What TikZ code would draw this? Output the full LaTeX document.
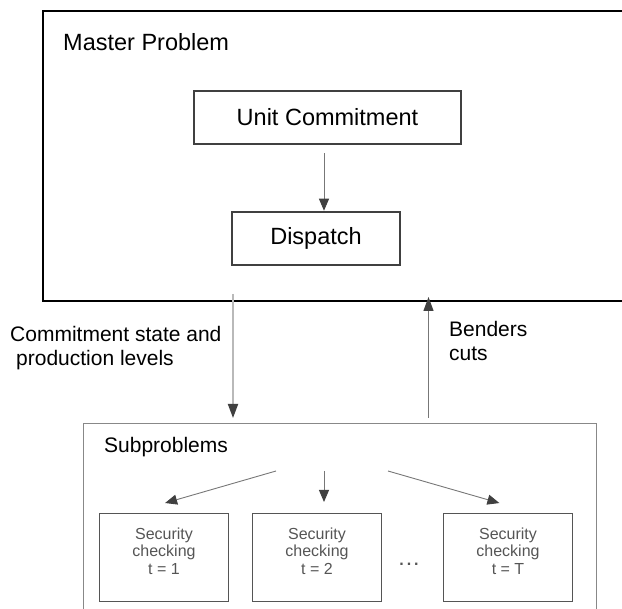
\documentclass[tikz,border=0pt]{standalone}
\usepackage{fontspec}
\setmainfont{Liberation Sans}
\usetikzlibrary{arrows.meta,calc}

\definecolor{boxgray}{HTML}{404040}
\definecolor{subgray}{HTML}{888888}
\definecolor{linegray}{HTML}{777777}
\definecolor{textgray}{HTML}{555555}

\tikzset{
  bigfont/.style={font=\fontsize{23.5}{26}\selectfont},
  midfont/.style={font=\fontsize{21}{24}\selectfont},
  smallfont/.style={font=\fontsize{16}{17.5}\selectfont},
  framebox/.style={draw=black, line width=2pt, anchor=north west, inner sep=0pt},
  stagebox/.style={draw=boxgray, line width=2.5pt, bigfont, inner sep=0pt},
  subframe/.style={draw=subgray, line width=1.3pt, anchor=north west, inner sep=0pt},
  checkbox/.style={draw=textgray, line width=1pt, anchor=north west, inner sep=0pt,
    minimum width=129pt, minimum height=88pt},
  checktext/.style={smallfont, text=textgray, align=center, inner sep=0pt},
  arr/.style={draw=linegray, line width=0.9pt,
    -{Triangle[length=12pt,width=10pt,fill=boxgray,color=boxgray]}},
  flow/.style={line width=1.8pt,
    -{Triangle[length=14pt,width=10pt,fill=boxgray,color=boxgray]}},
}

\begin{document}
\begin{tikzpicture}[x=1pt,y=-1pt]
\useasboundingbox (0,0) rectangle (622,609);
\clip (0,0) rectangle (622,609);

% master problem frame (runs off the right edge)
\node[framebox, minimum width=620pt, minimum height=290pt] (master) at (42,10) {};
\node[bigfont, anchor=base west, inner sep=0pt] (mastertitle) at (63,51) {Master Problem};

\node[stagebox, minimum width=267pt, minimum height=53pt] (uc) at (327.5,117.5) {Unit Commitment};
\node[stagebox, minimum width=168pt, minimum height=53pt] (disp) at (316,238.5) {Dispatch};
\draw[arr, shorten <=8pt] ([xshift=-3.5pt]uc.south) -- ([xshift=8pt]disp.north);

% subproblems frame (runs off the bottom edge)
\node[subframe, minimum width=513pt, minimum height=200pt] (sub) at (83,423) {};
\node[midfont, anchor=base west, inner sep=0pt] (subtitle) at (104,453) {Subproblems};

% links between master and subproblems
\coordinate (down) at (233,294);
\coordinate (up) at (428.5,418);
\draw[flow, draw=lightgray!90!gray, shorten >=5pt] (down) -- (down |- sub.north);
\draw[flow, draw=linegray, line width=1.2pt, shorten >=-5pt] (up) -- (up |- master.south);

\node[midfont, align=left, anchor=north west, inner sep=0pt] (statelbl) at (10,326)
  {Commitment state and\\\hspace*{6pt}production levels};
\node[midfont, align=left, anchor=north west, inner sep=0pt] (cutslbl) at (449,321)
  {Benders\\cuts};

% security checking per period
\node[checkbox] (c1) at (99,513) {};
\node[checkbox] (c2) at (252,513) {};
\node[checkbox] (c3) at (443,513) {};
\node[checktext] (t1) at ($(c1.north)+(0,38)$) {Security\\checking\\t = 1};
\node[checktext] (t2) at ($(c2.north)+(0,38)$) {Security\\checking\\t = 2};
\node[checktext] (t3) at ($(c3.north)+(0,38)$) {Security\\checking\\t = T};
\node[text=textgray, font=\bfseries\fontsize{16}{17.5}\selectfont, inner sep=0pt] (dots) at (409,564)
  {.\hspace{3pt}.\hspace{3pt}.};

\coordinate (f1) at (276,471);
\coordinate (f2) at (324,471);
\coordinate (f3) at (388,471);
\draw[arr, shorten >=36pt] (f1) -- ($(c1.north)+(-33.5,0)$);
\draw[arr, shorten >=11pt] (f2) -- (f2 |- c2.north);
\draw[arr, shorten >=36pt] (f3) -- ($(c3.north)+(26,0)$);
\end{tikzpicture}
\end{document}
